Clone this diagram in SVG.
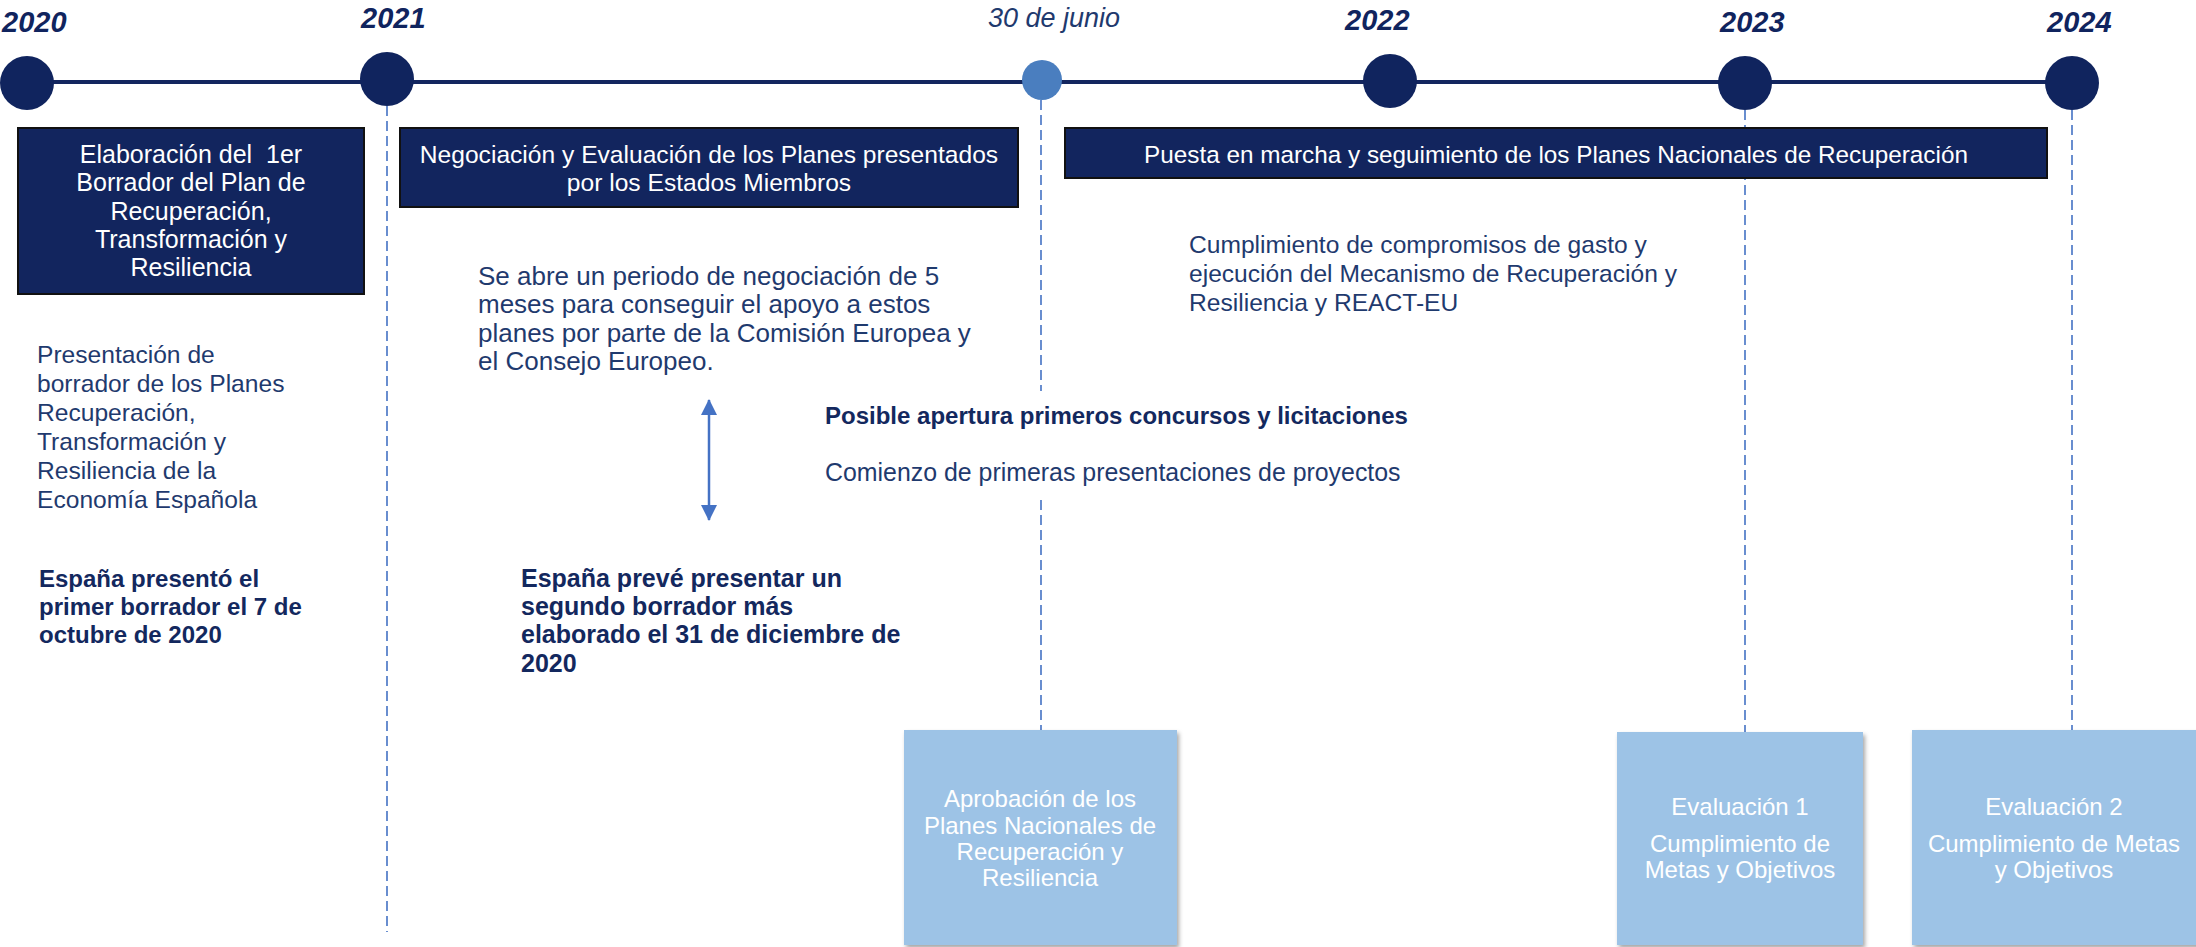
<svg xmlns="http://www.w3.org/2000/svg" width="2196" height="947" viewBox="0 0 2196 947">
<style>
  .yr{font-family:"Liberation Sans",Arial,sans-serif;font-weight:bold;font-style:italic;font-size:29px;fill:#10245E}
  .dt{font-family:"Liberation Sans",Arial,sans-serif;font-style:italic;font-size:27px;fill:#1F3A6E}
  .bx{fill:#12255E;stroke:#111;stroke-width:2}
  .bt{font-family:"Liberation Sans",Arial,sans-serif;font-size:24.3px;fill:#fff;text-anchor:middle;white-space:pre}
  .tx{font-family:"Liberation Sans",Arial,sans-serif;font-size:24.6px;fill:#1F3A6E}
  .tb{font-family:"Liberation Sans",Arial,sans-serif;font-size:24px;font-weight:bold;fill:#13285E}
  .lb{fill:#9DC3E6}
  .lt{font-family:"Liberation Sans",Arial,sans-serif;font-size:24px;fill:#fff;text-anchor:middle}
  .dash{stroke:#4472C4;stroke-width:1.6;stroke-dasharray:10 5;fill:none}
  .dot{fill:#10245E}
</style>
<defs>
  <filter id="sh" x="-10%" y="-10%" width="130%" height="130%">
    <feDropShadow dx="2" dy="3" stdDeviation="2" flood-color="#000" flood-opacity="0.35"/>
  </filter>
  <marker id="ah" viewBox="0 0 16 16" refX="15" refY="8" markerWidth="16" markerHeight="16" orient="auto-start-reverse" markerUnits="userSpaceOnUse">
    <path d="M0,0 L16,8 L0,16 z" fill="#4472C4"/>
  </marker>
</defs>

<g id="connectors">
  <line x1="27" y1="82" x2="2072" y2="82" stroke="#13265F" stroke-width="4"/>
  <line class="dash" x1="387" y1="106" x2="387" y2="932"/>
  <line class="dash" x1="1041" y1="100" x2="1041" y2="391"/>
  <line class="dash" x1="1041" y1="500" x2="1041" y2="730"/>
  <line class="dash" x1="1745" y1="110" x2="1745" y2="732"/>
  <line class="dash" x1="2072" y1="110" x2="2072" y2="730"/>
  <line x1="709" y1="400" x2="709" y2="520" stroke="#4472C4" stroke-width="2.5" marker-start="url(#ah)" marker-end="url(#ah)"/>
</g>

<g id="m2020">
  <circle class="dot" cx="27" cy="83" r="27"/>
  <text class="yr" x="2" y="32">2020</text>
</g>
<g id="m2021">
  <circle class="dot" cx="387" cy="79" r="27"/>
  <text class="yr" x="361" y="28">2021</text>
</g>
<g id="mjunio">
  <circle cx="1042" cy="80" r="20" fill="#4A7EBF"/>
  <text class="dt" x="988" y="27">30 de junio</text>
</g>
<g id="m2022">
  <circle class="dot" cx="1390" cy="81" r="27"/>
  <text class="yr" x="1345" y="30">2022</text>
</g>
<g id="m2023">
  <circle class="dot" cx="1745" cy="83" r="27"/>
  <text class="yr" x="1720" y="32">2023</text>
</g>
<g id="m2024">
  <circle class="dot" cx="2072" cy="83" r="27"/>
  <text class="yr" x="2047" y="32">2024</text>
</g>

<g id="box-elaboracion">
  <rect class="bx" x="18" y="128" width="346" height="166"/>
  <text class="bt" x="191" y="163" style="font-size:25px">Elaboración del  1er</text>
  <text class="bt" x="191" y="191" style="font-size:25px">Borrador del Plan de</text>
  <text class="bt" x="191" y="220" style="font-size:25px">Recuperación,</text>
  <text class="bt" x="191" y="248" style="font-size:25px">Transformación y</text>
  <text class="bt" x="191" y="276" style="font-size:25px">Resiliencia</text>
</g>
<g id="box-negociacion">
  <rect class="bx" x="400" y="128" width="618" height="79"/>
  <text class="bt" x="709" y="163" style="font-size:24.6px">Negociación y Evaluación de los Planes presentados</text>
  <text class="bt" x="709" y="191" style="font-size:24.6px">por los Estados Miembros</text>
</g>
<g id="box-puesta">
  <rect class="bx" x="1065" y="128" width="982" height="50"/>
  <text class="bt" x="1556" y="163">Puesta en marcha y seguimiento de los Planes Nacionales de Recuperación</text>
</g>

<g id="txt-presentacion">
  <text class="tx" x="37" y="363">Presentación de</text>
  <text class="tx" x="37" y="392">borrador de los Planes</text>
  <text class="tx" x="37" y="421">Recuperación,</text>
  <text class="tx" x="37" y="450">Transformación y</text>
  <text class="tx" x="37" y="479">Resiliencia de la</text>
  <text class="tx" x="37" y="508">Economía Española</text>
</g>
<g id="txt-espana1">
  <text class="tb" x="39" y="587">España presentó el</text>
  <text class="tb" x="39" y="615">primer borrador el 7 de</text>
  <text class="tb" x="39" y="643">octubre de 2020</text>
</g>
<g id="txt-periodo" style="font-size:26px">
  <text class="tx" x="478" y="285" style="font-size:26px">Se abre un periodo de negociación de 5</text>
  <text class="tx" x="478" y="313" style="font-size:26px">meses para conseguir el apoyo a estos</text>
  <text class="tx" x="478" y="342" style="font-size:26px">planes por parte de la Comisión Europea y</text>
  <text class="tx" x="478" y="370" style="font-size:26px">el Consejo Europeo.</text>
</g>
<g id="txt-espana2">
  <text class="tb" x="521" y="587" style="font-size:25px">España prevé presentar un</text>
  <text class="tb" x="521" y="615" style="font-size:25px">segundo borrador más</text>
  <text class="tb" x="521" y="643" style="font-size:25px">elaborado el 31 de diciembre de</text>
  <text class="tb" x="521" y="672" style="font-size:25px">2020</text>
</g>
<g id="txt-posible">
  <text class="tb" x="825" y="424">Posible apertura primeros concursos y licitaciones</text>
  <text class="tx" x="825" y="481" style="font-size:24.9px">Comienzo de primeras presentaciones de proyectos</text>
</g>
<g id="txt-cumplimiento">
  <text class="tx" x="1189" y="253">Cumplimiento de compromisos de gasto y</text>
  <text class="tx" x="1189" y="282">ejecución del Mecanismo de Recuperación y</text>
  <text class="tx" x="1189" y="311">Resiliencia y REACT-EU</text>
</g>

<g id="box-aprobacion">
  <rect class="lb" x="904" y="730" width="273" height="215" filter="url(#sh)"/>
  <text class="lt" x="1040" y="807">Aprobación de los</text>
  <text class="lt" x="1040" y="834">Planes Nacionales de</text>
  <text class="lt" x="1040" y="860">Recuperación y</text>
  <text class="lt" x="1040" y="886">Resiliencia</text>
</g>
<g id="box-eval1">
  <rect class="lb" x="1617" y="732" width="246" height="213" filter="url(#sh)"/>
  <text class="lt" x="1740" y="815">Evaluación 1</text>
  <text class="lt" x="1740" y="852">Cumplimiento de</text>
  <text class="lt" x="1740" y="878">Metas y Objetivos</text>
</g>
<g id="box-eval2">
  <rect class="lb" x="1912" y="730" width="290" height="215" filter="url(#sh)"/>
  <text class="lt" x="2054" y="815">Evaluación 2</text>
  <text class="lt" x="2054" y="852">Cumplimiento de Metas</text>
  <text class="lt" x="2054" y="878">y Objetivos</text>
</g>
</svg>
